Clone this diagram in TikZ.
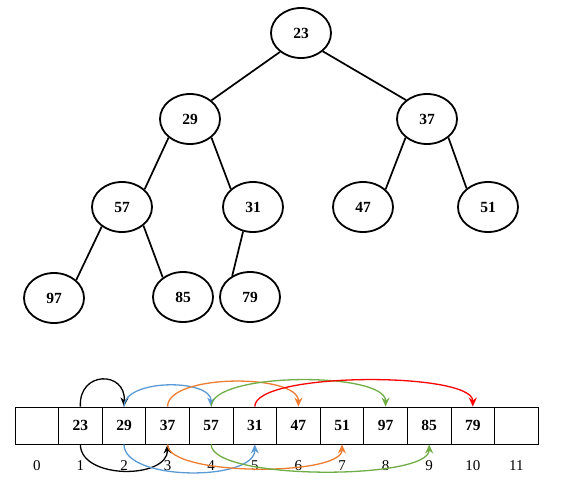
\documentclass[tikz,border=0pt]{standalone}
\usepackage{fontspec}
\setmainfont{Liberation Serif}
\usetikzlibrary{arrows.meta,shapes.geometric}
\definecolor{oblue}{RGB}{91,155,213}
\definecolor{oorange}{RGB}{237,125,49}
\definecolor{ogreen}{RGB}{112,173,71}
\definecolor{ored}{RGB}{255,0,0}
\begin{document}
\begin{tikzpicture}[x=1pt,y=-1pt,
  tnode/.style={draw,ellipse,line width=1.8pt,minimum width=60pt,minimum height=50pt,inner sep=0pt,font=\fontsize{15.5}{15.5}\selectfont\bfseries},
  tedge/.style={line width=1.7pt},
  cell/.style={draw,rectangle,line width=0.9pt,minimum width=43.6pt,minimum height=37pt,inner sep=0pt,font=\fontsize{15.5}{15.5}\selectfont\bfseries},
  idx/.style={font=\fontsize{15}{15}\selectfont},
  arc/.style={line width=1.3pt,-{Stealth[length=9pt,width=8pt]}}]
\useasboundingbox (0,0) rectangle (563,496);
% tree
\node[tnode] (n23) at (301,33) {23};
\node[tnode] (n29) at (190,119) {29};
\node[tnode] (n37) at (427,119) {37};
\node[tnode] (n57) at (122,207) {57};
\node[tnode] (n31) at (253,207) {31};
\node[tnode] (n47) at (363,207) {47};
\node[tnode] (n51) at (488,207) {51};
\node[tnode] (n97) at (54,298) {97};
\node[tnode] (n85) at (183,297) {85};
\node[tnode] (n79) at (250,297) {79};
\draw[tedge] (n23.222) -- (n29.41);
\draw[tedge] (n23.320) -- (n37.138);
\draw[tedge] (n29.221) -- (n57.38);
\draw[tedge] (n29.319) -- (n31.141);
\draw[tedge] (n37.221) -- (n47.38);
\draw[tedge] (n37.319) -- (n51.139);
\draw[tedge] (n57.224) -- (n97.39);
\draw[tedge] (n57.319) -- (n85.136);
\draw[tedge] (n31.248) -- (n79.130);
% array
\foreach \i/\v in {0/,1/23,2/29,3/37,4/57,5/31,6/47,7/51,8/97,9/85,10/79,11/} {
  \node[cell] (c\i) at ({15+21.8+43.6*\i},425.5) {\v};
  \node[idx] (l\i) at ({15+21.8+43.6*\i},466) {\i};
}
% top arcs (i -> 2i)
\draw[arc,black] (c1.north) .. controls +(-2,-36) and +(2,-36) .. (c2.north);
\draw[arc,oblue] (c2.north) .. controls +(0,-28) and +(0,-28) .. (c4.north);
\draw[arc,oorange] (c3.north) .. controls +(0,-33) and +(0,-33) .. (c6.north);
\draw[arc,ogreen] (c4.north) .. controls +(0,-35) and +(0,-35) .. (c8.north);
\draw[arc,ored] (c5.north) .. controls +(0,-35) and +(0,-35) .. (c10.north);
% bottom arcs (i -> 2i+1)
\draw[arc,black] (c1.south) .. controls +(0,35) and +(0,35) .. (c3.south);
\draw[arc,oblue] (c2.south) .. controls +(0,37) and +(0,37) .. (c5.south);
\draw[arc,oorange] (c3.south) .. controls +(0,32) and +(0,32) .. (c7.south);
\draw[arc,ogreen] (c4.south) .. controls +(0,36) and +(0,36) .. (c9.south);
\end{tikzpicture}
\end{document}
